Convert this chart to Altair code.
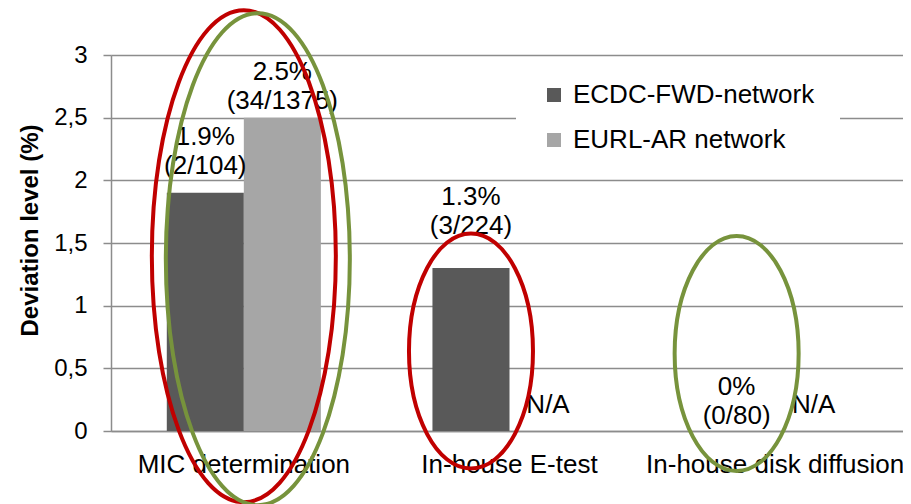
import altair as alt
import pandas as pd

categories = ["MIC determination", "In-house E-test", "In-house disk diffusion"]
series = ["ECDC-FWD-network", "EURL-AR network"]
ecdc_values = [1.9, 1.3, 0.0]
eurl_values = [2.5, None, None]
ecdc_labels = ["1.9%\n(2/104)", "1.3%\n(3/224)", "0%\n(0/80)"]
eurl_labels = ["2.5%\n(34/1375)", "N/A", "N/A"]
# vertical anchor (data units) of the first line of each label
ecdc_label_at = [2.346, 1.867, 0.351]
eurl_label_at = [2.864, 0.207, 0.207]
y_ticks = [0, 0.5, 1, 1.5, 2, 2.5, 3]

# highlight ellipses: category and vertical centre (data units)
ell_big_cat = ["MIC determination"]
ell_big_center = [1.395]
ell_small_red_cat = ["In-house E-test"]
ell_small_green_cat = ["In-house disk diffusion"]
ell_small_center = [0.638, 0.618]

FONT = "Liberation Sans"
GRID = "#8c8c8c"
COLORS = ["#595959", "#a6a6a6"]
RED = "#c00000"
GREEN = "#77933c"

rows = []
for c, v in zip(categories, ecdc_values):
    if v is not None:
        rows.append({"category": c, "series": series[0], "value": v})
for c, v in zip(categories, eurl_values):
    if v is not None:
        rows.append({"category": c, "series": series[1], "value": v})
bars_df = pd.DataFrame(rows)

lab_rows = []
for c, t, y in zip(categories, ecdc_labels, ecdc_label_at):
    lab_rows.append({"category": c, "series": series[0], "label": t, "pos": y})
for c, t, y in zip(categories, eurl_labels, eurl_label_at):
    lab_rows.append({"category": c, "series": series[1], "label": t, "pos": y})
labels_df = pd.DataFrame(lab_rows)

x_enc = alt.X(
    "category:N",
    sort=categories,
    scale=alt.Scale(domain=categories, paddingInner=0.42, paddingOuter=0.21, range=[0, 797]),
    axis=alt.Axis(
        title=None, labelAngle=0, ticks=False, labelFontSize=26, labelFont=FONT,
        labelColor="#000000", labelPadding=20, domainColor=GRID, domainWidth=1.5,
        grid=False, labelLimit=400,
    ),
)
xoff = alt.XOffset("series:N", sort=series, scale=alt.Scale(domain=series, paddingInner=0, paddingOuter=0))

y_scale = alt.Scale(domain=[0, 3], nice=False, zero=True)

bars = alt.Chart(bars_df).mark_bar().encode(
    x=x_enc,
    xOffset=xoff,
    y=alt.Y(
        "value:Q",
        scale=y_scale,
        axis=alt.Axis(
            values=y_ticks,
            labelExpr="replace(format(datum.value, '~g'), '.', ',')",
            title="Deviation level (%)",
            titleFont=FONT, titleFontSize=24, titleFontWeight="bold", titleColor="#000000",
            titlePadding=11, titleY=175,
            labelFont=FONT, labelFontSize=24, labelColor="#000000", labelPadding=16,
            tickSize=8, tickColor=GRID, tickWidth=1.5,
            domainColor=GRID, domainWidth=1.5,
            gridColor=GRID, gridWidth=1.5,
        ),
    ),
    color=alt.Color(
        "series:N",
        sort=series,
        scale=alt.Scale(domain=series, range=COLORS),
        legend=alt.Legend(
            title=None, orient="none", legendX=405, legendY=2,
            fillColor="#ffffff", padding=25,
            symbolType="square", symbolSize=196, symbolStrokeWidth=0,
            labelFont=FONT, labelFontSize=26, labelColor="#000000",
            labelOffset=6, rowPadding=19, labelLimit=400,
        ),
    ),
)

texts = alt.Chart(labels_df).mark_text(
    font=FONT, fontSize=26, color="#000000", lineBreak="\n", lineHeight=29,
    baseline="middle", align="center",
).encode(
    x=alt.X("category:N", sort=categories),
    xOffset=alt.XOffset("series:N", sort=series),
    y=alt.Y("pos:Q", scale=y_scale),
    text="label:N",
)


def ellipse_path(a):
    k = 0.5523
    ka = k * a
    return (
        f"M 0 -1 C {ka:.4f} -1 {a:.4f} {-k:.4f} {a:.4f} 0 "
        f"C {a:.4f} {k:.4f} {ka:.4f} 1 0 1 "
        f"C {-ka:.4f} 1 {-a:.4f} {k:.4f} {-a:.4f} 0 "
        f"C {-a:.4f} {-k:.4f} {-ka:.4f} -1 0 -1 Z"
    )


big_df = pd.DataFrame({"category": ell_big_cat, "c": ell_big_center})
big_path = ellipse_path(92 / 246)
big_size = (2 * 246) ** 2

ell_big_red = alt.Chart(big_df).mark_point(
    shape=big_path, size=big_size, filled=False, stroke=RED, strokeWidth=4, opacity=1,
).encode(x=alt.X("category:N", sort=categories), y=alt.Y("c:Q", scale=y_scale))

ell_big_green = alt.Chart(big_df).mark_point(
    shape=big_path, size=big_size, filled=False, stroke=GREEN, strokeWidth=4, opacity=1,
    xOffset=14, yOffset=3,
).encode(x=alt.X("category:N", sort=categories), y=alt.Y("c:Q", scale=y_scale))

small_path = ellipse_path(62 / 117.5)
small_size = (2 * 117.5) ** 2

red_df = pd.DataFrame({"category": ell_small_red_cat, "series": [series[0]], "c": [ell_small_center[0]]})
green_df = pd.DataFrame({"category": ell_small_green_cat, "series": [series[0]], "c": [ell_small_center[1]]})

ell_small_red = alt.Chart(red_df).mark_point(
    shape=small_path, size=small_size, filled=False, stroke=RED, strokeWidth=4, opacity=1,
    xOffset=-2,
).encode(
    x=alt.X("category:N", sort=categories),
    xOffset=alt.XOffset("series:N", sort=series),
    y=alt.Y("c:Q", scale=y_scale),
)
ell_small_green = alt.Chart(green_df).mark_point(
    shape=small_path, size=small_size, filled=False, stroke=GREEN, strokeWidth=4, opacity=1,
    xOffset=2,
).encode(
    x=alt.X("category:N", sort=categories),
    xOffset=alt.XOffset("series:N", sort=series),
    y=alt.Y("c:Q", scale=y_scale),
)

chart = alt.layer(
    bars, texts, ell_big_red, ell_big_green, ell_small_red, ell_small_green
).properties(
    width=792, height=376,
    autosize=alt.AutoSizeParams(type="none"),
    padding={"left": 103, "top": 47, "right": 0, "bottom": 73},
).configure_view(strokeWidth=0).configure(background="#ffffff")

chart.save("out.html", embed_options={"renderer": "svg", "actions": False})
